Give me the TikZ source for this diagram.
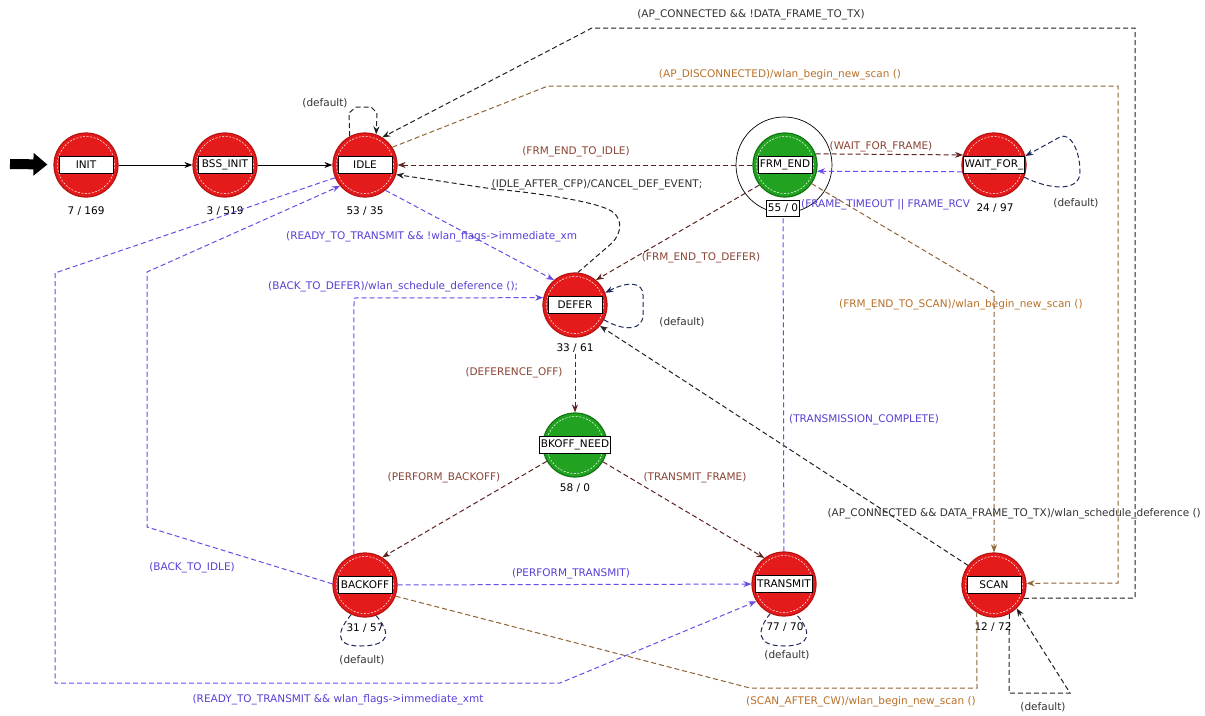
\documentclass[tikz,border=0pt]{standalone}
\usepackage{fontspec}
\setmainfont{DejaVu Sans}
\usetikzlibrary{arrows.meta}

\definecolor{stRed}{HTML}{E51A1A}
\definecolor{stRedEdge}{HTML}{B81212}
\definecolor{stGreen}{HTML}{21A321}
\definecolor{stGreenEdge}{HTML}{127512}
\definecolor{trBlack}{HTML}{222222}
\definecolor{lbBlack}{HTML}{333333}
\definecolor{trDark}{HTML}{5C2320}
\definecolor{lbDark}{HTML}{8A4535}
\definecolor{trBrown}{HTML}{8E6434}
\definecolor{lbBrown}{HTML}{B8712A}
\definecolor{trPurple}{HTML}{6A4CE6}
\definecolor{lbPurple}{HTML}{5B3FD6}
\definecolor{trNavy}{HTML}{1E2A5A}

\tikzset{
  stnode/.style={circle, minimum size=64pt, inner sep=0pt, line width=1.2pt,
    path picture={\draw[white, line width=0.5pt, dash pattern=on 2pt off 1.5pt]
      (path picture bounding box.center) circle[radius=28.5pt];}},
  redstate/.style={stnode, fill=stRed, draw=stRedEdge},
  greenstate/.style={stnode, fill=stGreen, draw=stGreenEdge},
  namebox/.style={draw=black, fill=white, line width=1pt, minimum width=54pt,
    minimum height=17pt, inner xsep=1.5pt, inner ysep=1pt,
    font=\fontsize{10.5}{11}\selectfont},
  cntlabel/.style={font=\fontsize{10.5}{11}\selectfont, text=black, inner sep=1pt},
  tlabel/.style={font=\fontsize{10.5}{11}\selectfont, inner sep=1pt},
  trline/.style={dash pattern=on 5pt off 3pt, line width=1pt},
  solidtr/.style={line width=1pt, color=black},
  arr/.style={-{Stealth[length=8pt,width=6pt]}},
}

\begin{document}
\begin{tikzpicture}[x=1pt, y=-1pt]
\fill[white] (0,0) rectangle (1205,715);
\useasboundingbox (0,0) rectangle (1205,715);

% ---------- states ----------
\node[draw=black, circle, minimum size=96pt, inner sep=0pt, line width=0.7pt] (frm-ring) at (784,165) {};

\node[redstate] (init) at (86,165) {};
\node[namebox] (init-name) at (init) {INIT};
\node[cntlabel] (init-cnt) at (86,211) {7 / 169};

\node[redstate] (bss) at (225,165) {};
\node[namebox] (bss-name) at (bss) {BSS\_INIT};
\node[cntlabel] (bss-cnt) at (225,211) {3 / 519};

\node[redstate] (idle) at (365,165) {};
\node[namebox] (idle-name) at (idle) {IDLE};
\node[cntlabel] (idle-cnt) at (365,211) {53 / 35};

\node[greenstate] (frm) at (785,165) {};
\node[namebox] (frm-name) at (frm) {FRM\_END};
\node[draw=black, fill=white, line width=1pt, minimum width=31pt, minimum height=16pt,
  inner sep=1pt, font=\fontsize{10.5}{11}\selectfont] (frm-cnt) at (783,208) {55 / 0};

\node[redstate] (wait) at (994,165) {};
\node[namebox] (wait-name) at (wait) {WAIT\_FOR\_};
\node[cntlabel] (wait-cnt) at (995,208) {24 / 97};

\node[redstate] (defer) at (575,305) {};
\node[namebox] (defer-name) at (defer) {DEFER};
\node[cntlabel] (defer-cnt) at (575,348) {33 / 61};

\node[greenstate] (bkoff) at (575,445) {};
\node[namebox] (bkoff-name) at (bkoff) {BKOFF\_NEED};
\node[cntlabel] (bkoff-cnt) at (575,488) {58 / 0};

\node[redstate] (backoff) at (365,585) {};
\node[namebox] (backoff-name) at (backoff) {BACKOFF};
\node[cntlabel] (backoff-cnt) at (365,628) {31 / 57};

\node[redstate] (transmit) at (784,584) {};
\node[namebox] (transmit-name) at (transmit) {TRANSMIT};
\node[cntlabel] (transmit-cnt) at (785,627) {77 / 70};

\node[redstate] (scan) at (994,585) {};
\node[namebox] (scan-name) at (scan) {SCAN};
\node[cntlabel] (scan-cnt) at (993,627) {12 / 72};

% ---------- initial transition ----------
\coordinate (start) at (10,164);
\draw[line width=10pt, -{Triangle[length=14pt,width=22pt]}, shorten >=6pt] (start) -- (init);

% ---------- solid transitions ----------
\draw[solidtr, arr] (init) -- (bss);
\draw[solidtr, arr] (bss) -- (idle);

% ---------- black transitions ----------
\draw[trline, color=trBlack, arr] (idle.118) -- (349,113) -- (356,107) -- (371,107) -- (377,113) -- (idle.70);
\draw[trline, color=trBlack, arr] (scan.-24) -- (1135,598) -- (1135,28) -- (592,28) -- (idle.58);
\draw[trline, color=trBlack, arr] (defer.85) -- (612,243) .. controls (622,233) and (625,215) .. (605,208)
  .. controls (585,200) and (530,192) .. (493,189) -- (idle.-17);
\draw[trline, color=trBlack, arr] (scan.143) -- (defer.-40);
\draw[trline, color=trBlack, arr] (scan.-62) -- (1009,693) -- (1070,693) -- (scan.-46);

% ---------- dark red transitions ----------
\draw[trline, color=trDark, arr] (frm) -- (idle);
\draw[trline, color=trDark, arr] (frm.-142) -- (defer.50);
\draw[trline, color=trDark, arr] (frm.20) -- (wait.162);
\draw[trline, color=trDark, arr] (defer-cnt) -- (bkoff);
\draw[trline, color=trDark, arr] (bkoff.-150) -- (backoff.58);
\draw[trline, color=trDark, arr] (bkoff.-31) -- (transmit.127);

% ---------- brown transitions ----------
\draw[trline, color=trBrown, arr] (idle.33) -- (548,86) -- (1118,86) -- (1118,583) -- (scan.3);
\draw[trline, color=trBrown, arr] (frm.-35) -- (994,292) -- (scan.north);
\draw[trline, color=trBrown] (backoff.-20) -- (750,688) -- (977,688) -- (scan.-122);

% ---------- purple transitions ----------
\draw[trline, color=trPurple, arr] (idle.-51) -- (defer.130);
\draw[trline, color=trPurple, arr] (wait.-168) -- (frm.-11);
\draw[trline, color=trPurple, arr] (idle.-157) -- (55,273) -- (55,683) -- (560,683) -- (transmit.-148);
\draw[trline, color=trPurple, arr] (backoff.178) -- (147,527) -- (147,272) -- (idle.-140);
\coordinate (b2d-corner) at (354,298);
\draw[trline, color=trPurple, arr] (backoff.110) -- (b2d-corner) -- (defer.167);
\draw[trline, color=trPurple, arr] (backoff) -- (transmit);
\draw[trline, color=trPurple] (transmit) -- (frm-cnt);

% ---------- self loops ----------
\draw[trline, color=trNavy, arr] (wait.-22) .. controls (1050,190) and (1080,192) .. (1080,172)
  .. controls (1080,150) and (1070,132) .. (1060,137) -- (wait.16);
\draw[trline, color=trNavy, arr] (defer.-27) .. controls (625,332) and (643,330) .. (643,315) -- (643,295)
  .. controls (643,282) and (628,281) .. (defer.22);
\draw[trline, color=trNavy] (backoff.-115) .. controls (338,630) and (333,646) .. (360,646)
  .. controls (392,646) and (390,632) .. (backoff.-70);
\draw[trline, color=trNavy] (transmit.-115) .. controls (757,630) and (755,646) .. (784,646)
  .. controls (812,646) and (812,632) .. (transmit.-68);

% ---------- transition labels ----------
\node[tlabel, text=lbBlack] (l-idle-def) at (325,103) {(default)};
\node[tlabel, text=lbBlack] (l-apc) at (751,15) {(AP\_CONNECTED \&\& !DATA\_FRAME\_TO\_TX)};
\node[tlabel, text=lbBrown] (l-apd) at (780,75) {(AP\_DISCONNECTED)/wlan\_begin\_new\_scan ()};
\node[tlabel, text=lbDark] (l-f2i) at (576,152) {(FRM\_END\_TO\_IDLE)};
\node[tlabel, text=lbDark] (l-wff) at (881,147) {(WAIT\_FOR\_FRAME)};
\node[tlabel, text=lbBlack] (l-iac) at (597,185) {(IDLE\_AFTER\_CFP)/CANCEL\_DEF\_EVENT;};
\node[tlabel, text=lbPurple, anchor=west] (l-fto) at (800,205) {(FRAME\_TIMEOUT || FRAME\_RCV};
\node[tlabel, text=lbBlack] (l-wait-def) at (1076,203) {(default)};
\node[tlabel, text=lbPurple, anchor=west] (l-rtt1) at (285,237) {(READY\_TO\_TRANSMIT \&\& !wlan\_flags->immediate\_xm};
\node[tlabel, text=lbDark] (l-f2d) at (701,258) {(FRM\_END\_TO\_DEFER)};
\node[tlabel, text=lbPurple, anchor=west] (l-b2d) at (267,287) {(BACK\_TO\_DEFER)/wlan\_schedule\_deference ();};
\node[tlabel, text=lbBrown, anchor=west] (l-f2s) at (838,305) {(FRM\_END\_TO\_SCAN)/wlan\_begin\_new\_scan ()};
\node[tlabel, text=lbBlack] (l-defer-def) at (682,322) {(default)};
\node[tlabel, text=lbDark] (l-doff) at (514,373) {(DEFERENCE\_OFF)};
\node[tlabel, text=lbPurple, anchor=west] (l-tc) at (788,420) {(TRANSMISSION\_COMPLETE)};
\node[tlabel, text=lbDark] (l-pb) at (444,478) {(PERFORM\_BACKOFF)};
\node[tlabel, text=lbDark] (l-tf) at (695,478) {(TRANSMIT\_FRAME)};
\node[tlabel, text=lbBlack, anchor=east] (l-apcd) at (1202,514) {(AP\_CONNECTED \&\& DATA\_FRAME\_TO\_TX)/wlan\_schedule\_deference ()};
\node[tlabel, text=lbPurple] (l-b2i) at (192,568) {(BACK\_TO\_IDLE)};
\node[tlabel, text=lbPurple] (l-pt) at (571,574) {(PERFORM\_TRANSMIT)};
\node[tlabel, text=lbBlack] (l-backoff-def) at (362,660) {(default)};
\node[tlabel, text=lbBlack] (l-transmit-def) at (787,655) {(default)};
\node[tlabel, text=lbPurple] (l-rtt2) at (338,700) {(READY\_TO\_TRANSMIT \&\& wlan\_flags->immediate\_xmt};
\node[tlabel, text=lbBrown] (l-sac) at (861,702) {(SCAN\_AFTER\_CW)/wlan\_begin\_new\_scan ()};
\node[tlabel, text=lbBlack] (l-scan-def) at (1043,707) {(default)};
\end{tikzpicture}
\end{document}
